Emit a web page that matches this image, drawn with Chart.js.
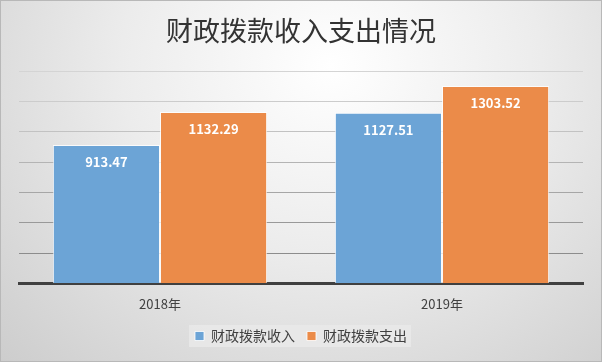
<!DOCTYPE html>
<html lang="zh">
<head>
  <meta charset="UTF-8">
  <title>财政拨款收入支出情况</title>
  <script src="https://cdn.jsdelivr.net/npm/chart.js"></script>
  <style>
    body {
      margin: 0;
      background: #fff;
    }
    .box {
      width: 600px;
      height: 360px;
      border: 1px solid #b8b8b8;
      background: radial-gradient(ellipse at 55% 18%, #ffffff 0%, #ececec 45%, #cdcdcd 100%);
    }
  </style>
</head>
<body>
  <div class="box">
    <canvas id="chart" width="600" height="360"></canvas>
  </div>

  <script>
    const years = ["2018年", "2019年"];
    const income = [913.47, 1127.51];
    const expense = [1132.29, 1303.52];
    const seriesNames = ["财政拨款收入", "财政拨款支出"];

    const fontFamily = "'Noto Sans CJK SC', 'Noto Sans', sans-serif";

    // white value labels inside the top of each bar
    const valueLabels = {
      id: 'valueLabels',
      afterDatasetsDraw(chart) {
        const ctx = chart.ctx;
        ctx.save();
        ctx.fillStyle = '#ffffff';
        ctx.font = "bold 13px " + fontFamily;
        ctx.textAlign = 'center';
        ctx.textBaseline = 'middle';
        chart.data.datasets.forEach((ds, i) => {
          chart.getDatasetMeta(i).data.forEach((bar, j) => {
            ctx.fillText(ds.data[j].toFixed(2), bar.x, bar.y + 17);
          });
        });
        ctx.restore();
      }
    };

    // faint box behind legend
    const legendBg = {
      id: 'legendBg',
      beforeDraw(chart) {
        const lg = chart.legend;
        if (!lg || !lg.legendHitBoxes.length) return;
        const boxes = lg.legendHitBoxes;
        const first = boxes[0], last = boxes[boxes.length - 1];
        const ctx = chart.ctx;
        ctx.save();
        ctx.fillStyle = 'rgba(235,235,235,0.7)';
        ctx.fillRect(first.left - 6, first.top - 4, last.left + last.width - first.left + 10, first.height + 8);
        ctx.restore();
      }
    };

    new Chart(document.getElementById('chart'), {
      type: 'bar',
      data: {
        labels: years,
        datasets: [
          {
            label: seriesNames[0],
            data: income,
            backgroundColor: '#6ca4d6',
            borderColor: 'rgba(255,255,255,0.8)',
            borderWidth: 1
          },
          {
            label: seriesNames[1],
            data: expense,
            backgroundColor: '#eb8b49',
            borderColor: 'rgba(255,255,255,0.8)',
            borderWidth: 1
          }
        ]
      },
      options: {
        responsive: false,
        animation: false,
        layout: { padding: { left: 18, right: 18, top: 0, bottom: 8 } },
        datasets: {
          bar: { categoryPercentage: 0.76, barPercentage: 1 }
        },
        scales: {
          x: {
            grid: { display: false },
            border: { color: '#404040', width: 3 },
            ticks: { color: '#404040', font: { size: 13, family: fontFamily }, padding: 5 }
          },
          y: {
            min: 0,
            max: 1400,
            ticks: { display: false, stepSize: 200 },
            border: { display: false },
            grid: {
              drawTicks: false,
              color: (c) => {
                const shades = ['#404040', '#8c8c8c', '#999999', '#a6a6a6', '#b4b4b4', '#c2c2c2', '#cccccc', '#d4d4d4'];
                return shades[c.index] || '#d4d4d4';
              }
            }
          }
        },
        plugins: {
          title: {
            display: true,
            text: '财政拨款收入支出情况',
            color: '#333333',
            font: { size: 27, weight: 'normal', family: fontFamily },
            padding: { top: 14, bottom: 24 }
          },
          legend: {
            position: 'bottom',
            labels: {
              boxWidth: 9,
              boxHeight: 9,
              color: '#404040',
              font: { size: 14, family: fontFamily },
              padding: 12
            }
          },
          tooltip: { enabled: false }
        }
      },
      plugins: [valueLabels, legendBg]
    });
  </script>
</body>
</html>
